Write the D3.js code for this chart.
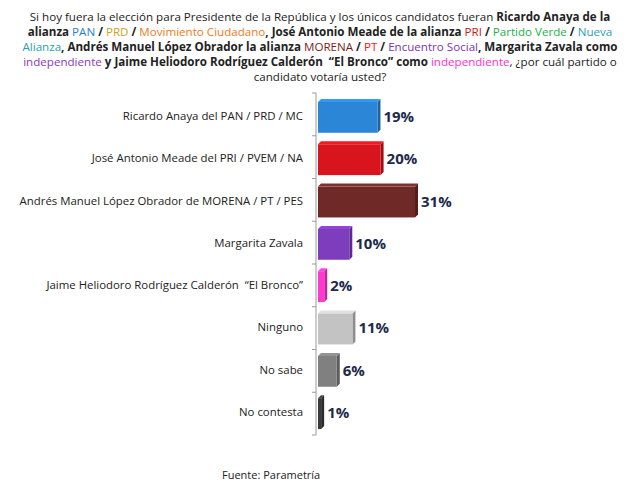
<!DOCTYPE html>
<html>
<head>
<meta charset="utf-8">
<script src="https://cdn.jsdelivr.net/npm/d3@7"></script>
<style>
  body { margin: 0; background: #fff; }
  svg { display: block; font-family: 'Open Sans', 'Noto Sans', sans-serif; }
  text { white-space: pre; }
</style>
</head>
<body>
<div id="chart"></div>
<script>
const categories = [
    'Ricardo Anaya del PAN / PRD / MC',
    'José Antonio Meade del PRI / PVEM / NA',
    'Andrés Manuel López Obrador de MORENA / PT / PES',
    'Margarita Zavala',
    'Jaime Heliodoro Rodríguez Calderón  “El Bronco”',
    'Ninguno',
    'No sabe',
    'No contesta',
];
const values = [19, 20, 31, 10, 2, 11, 6, 1];
const barColors = ['#2b86d8', '#d8141d', '#6f2a27', '#7d3dbd', '#ff38cf', '#c3c3c3', '#808080', '#3a3a3a'];

// title pieces: [text, colour, bold]
const titleLines = [
    [['Si hoy fuera la elección para Presidente de la República y los únicos candidatos fueran ', '#222', false], ['Ricardo Anaya de la', '#222', true]],
    [['alianza ', '#222', true], ['PAN', '#1f7ed0', false], [' / ', '#222', true], ['PRD', '#c9a227', false], [' / ', '#222', true],
     ['Movimiento Ciudadano', '#ee7a1c', false], [', José Antonio Meade de la alianza ', '#222', true], ['PRI', '#d01818', false],
     [' / ', '#222', true], ['Partido Verde', '#23b04a', false], [' / ', '#222', true], ['Nueva', '#2a9fb0', false]],
    [['Alianza', '#2a9fb0', false], [', Andrés Manuel López Obrador la alianza ', '#222', true], ['MORENA', '#7a1e1e', false],
     [' / ', '#222', true], ['PT', '#e8201f', false], [' / ', '#222', true], ['Encuentro Social', '#7b35b0', false],
     [', Margarita Zavala como', '#222', true]],
    [['independiente', '#8a38c0', false], [' y Jaime Heliodoro Rodríguez Calderón  “El Bronco” como ', '#222', true],
     ['independiente', '#ff2fd0', false], [', ¿por cuál partido o', '#222', false]],
    [['candidato votaría usted?', '#222', false]],
];
const source = 'Fuente: Parametría';

const width = 640, height = 491;
const plot = { left: 316, top: 93, bottom: 435 };

const svg = d3.select('#chart').append('svg')
    .attr('width', width)
    .attr('height', height);

// title
const title = svg.append('text')
    .attr('text-anchor', 'middle')
    .attr('font-size', 11.6);
titleLines.forEach((line, i) => {
    const t = title.append('tspan')
        .attr('x', 320)
        .attr('y', 21 + i * 15);
    line.forEach(([txt, col, b]) => {
        t.append('tspan')
            .attr('fill', col)
            .attr('font-weight', b ? 'bold' : 'normal')
            .text(txt);
    });
});

const y = d3.scaleBand()
    .domain(categories)
    .range([plot.top, plot.bottom])
    .paddingInner(0.2)
    .paddingOuter(0.14);

const x = d3.scaleLinear()
    .domain([0, 31])
    .range([plot.left + 2, plot.left + 99]);

// axis line + ticks at band boundaries
svg.append('line')
    .attr('x1', plot.left).attr('x2', plot.left)
    .attr('y1', plot.top).attr('y2', plot.bottom)
    .attr('stroke', '#9a9a9a');
d3.range(categories.length + 1).forEach(i => {
    const yy = plot.top + i * (plot.bottom - plot.top) / categories.length;
    svg.append('line')
        .attr('x1', plot.left - 4).attr('x2', plot.left)
        .attr('y1', yy).attr('y2', yy)
        .attr('stroke', '#9a9a9a');
});

// category labels
svg.append('g').selectAll('text')
    .data(categories)
    .join('text')
    .attr('x', 303)
    .attr('y', d => y(d) + y.bandwidth() / 2 + 4)
    .attr('text-anchor', 'end')
    .attr('font-size', 11.4)
    .attr('fill', '#222')
    .text(d => d);

const bars = svg.append('g').selectAll('g')
    .data(values.map((v, i) => ({ v, c: categories[i], col: barColors[i] })))
    .join('g');

const depth = 3;
// side face
bars.append('path')
    .attr('d', d => {
        const x1 = x(d.v), y0 = y(d.c), y1 = y0 + y.bandwidth();
        return `M${x1},${y0 + depth}L${x1 + depth},${y0}L${x1 + depth},${y1 - depth}L${x1},${y1}Z`;
    })
    .attr('fill', d => d3.color(d.col).darker(0.9));
// top face
bars.append('path')
    .attr('d', d => {
        const x0 = x(0), x1 = x(d.v), y0 = y(d.c);
        return `M${x0},${y0 + depth}L${x0 + depth},${y0}L${x1 + depth},${y0}L${x1},${y0 + depth}Z`;
    })
    .attr('fill', d => d3.color(d.col).brighter(0.4));
// front face
bars.append('rect')
    .attr('x', x(0))
    .attr('y', d => y(d.c) + depth)
    .attr('width', d => x(d.v) - x(0))
    .attr('height', y.bandwidth() - depth)
    .attr('fill', d => d.col);

// value labels
bars.append('text')
    .attr('x', d => x(d.v) + depth + 3)
    .attr('y', d => y(d.c) + y.bandwidth() / 2 + 6)
    .attr('font-size', 15)
    .attr('font-weight', 'bold')
    .attr('fill', '#1d2a4a')
    .text(d => d.v + '%');

svg.append('text')
    .attr('x', 222)
    .attr('y', 479)
    .attr('font-size', 11)
    .attr('fill', '#222')
    .text(source);
</script>
</body>
</html>
